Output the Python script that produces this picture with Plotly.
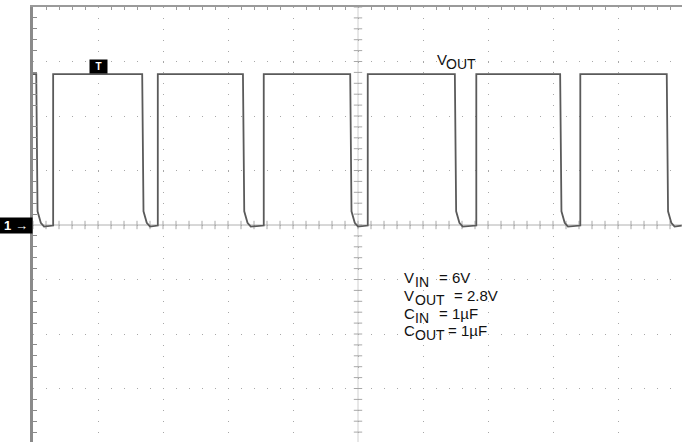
import numpy as np
import plotly.graph_objects as go

# scope trace, time in divisions, level in volts (1 V/div)
t_div = [0.00, 0.05, 0.07, 0.12, 0.17, 0.31, 0.31,
         1.68, 1.70, 1.75, 1.80, 1.92, 1.92,
         3.23, 3.25, 3.30, 3.35, 3.55, 3.55,
         4.88, 4.90, 4.95, 5.00, 5.15, 5.15,
         6.49, 6.51, 6.56, 6.61, 6.82, 6.82,
         8.11, 8.13, 8.18, 8.23, 8.42, 8.42,
         9.75, 9.77, 9.82, 9.87, 9.98]
v_out = [2.77, 2.77, 0.25, 0.04, -0.03, -0.01, 2.77,
         2.77, 0.25, 0.04, -0.03, -0.01, 2.77,
         2.77, 0.25, 0.04, -0.03, -0.01, 2.77,
         2.77, 0.25, 0.04, -0.03, -0.01, 2.77,
         2.77, 0.25, 0.04, -0.03, -0.01, 2.77,
         2.77, 0.25, 0.04, -0.03, -0.01, 2.77,
         2.77, 0.25, 0.04, -0.03, -0.01]

# test conditions: symbol, subscript, value
cond_symbol = ["V", "V", "C", "C"]
cond_sub = ["IN", "OUT", "IN", "OUT"]
cond_value = ["= 6V", "= 2.8V", "= 1\u00b5F", "= 1\u00b5F"]

grid = "#a8a8a8"
fam = "Liberation Sans, Arial"


def px_x(p):
    return (p - 33) / 65


def px_y(p):
    return (225 - p) / 54.5


fig = go.Figure()

# center cross with minor ticks
minor_x = np.arange(0, 10.01, 0.2)
minor_y = np.arange(-4, 4.01, 0.2)
fig.add_trace(go.Scatter(x=minor_x, y=[0] * len(minor_x), mode="markers",
                         marker=dict(symbol="line-ns", size=6, line=dict(width=1, color=grid)),
                         hoverinfo="skip", showlegend=False))
fig.add_trace(go.Scatter(x=[5] * len(minor_y), y=minor_y, mode="markers",
                         marker=dict(symbol="line-ew", size=6, line=dict(width=1, color=grid)),
                         hoverinfo="skip", showlegend=False))

fig.add_trace(go.Scatter(x=t_div, y=v_out, mode="lines",
                         line=dict(color="#5a5a5a", width=1.8),
                         showlegend=False))

fig.add_shape(type="line", x0=0, x1=10, y0=0, y1=0, line=dict(color="#b0b0b0", width=1), layer="below")
fig.add_shape(type="line", x0=5, x1=5, y0=-4, y1=4, line=dict(color="#d0d0d0", width=1), layer="below")

fig.update_xaxes(range=[0, 649 / 65], dtick=1, tick0=0, showgrid=True, gridcolor=grid,
                 griddash="1px,9.9px", gridwidth=1, zeroline=False, showticklabels=False,
                 side="top", showline=True, linecolor="#9a9a9a", linewidth=2,
                 minor=dict(dtick=0.2, ticks="inside", ticklen=3, tickcolor="#9a9a9a", showgrid=False))
fig.update_yaxes(range=[-217 / 54.5, 218 / 54.5], dtick=1, tick0=0, showgrid=True, gridcolor=grid,
                 griddash="1px,12px", gridwidth=1, zeroline=False, showticklabels=False,
                 showline=True, linecolor="#8a8a8a", linewidth=3,
                 minor=dict(dtick=0.2, ticks="inside", ticklen=4, tickcolor="#8a8a8a", showgrid=False))


def label(x, y, text, size):
    fig.add_annotation(x=px_x(x), y=px_y(y), xref="x", yref="y", text=text, showarrow=False,
                       xanchor="left", yanchor="middle", borderpad=0,
                       font=dict(family=fam, size=size, color="#111"))


# V_OUT trace label
label(436, 59, "V", 15)
label(445, 64, "OUT", 14)

# conditions block
row_y = [277, 295, 313, 330]
value_x = [438, 453, 438, 447]
for i in range(4):
    label(403, row_y[i], cond_symbol[i], 15)
    label(414, row_y[i] + 5, cond_sub[i], 14)
    label(value_x[i], row_y[i], cond_value[i], 15)

# trigger and channel markers
fig.add_annotation(x=1, y=px_y(66), xref="x", yref="y", text="<b>T</b>",
                   showarrow=False, bgcolor="black", font=dict(family=fam, size=10, color="white"),
                   borderpad=1, width=15, height=11)
fig.add_annotation(x=0, y=0, xref="paper", yref="y", text="<b>1 \u2192</b>", xanchor="right",
                   showarrow=False, bgcolor="black", font=dict(family=fam, size=13, color="white"),
                   borderpad=0, width=32, height=15)

fig.update_layout(width=682, height=442, margin=dict(l=33, r=0, t=7, b=0, pad=0),
                  paper_bgcolor="white", plot_bgcolor="white")
fig.write_html("out.html", config={"displayModeBar": False},
               post_script="document.body.style.margin='0';")
